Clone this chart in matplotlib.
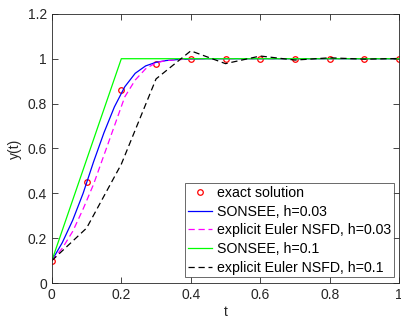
import numpy as np
import matplotlib.pyplot as plt
from matplotlib.ticker import FormatStrFormatter

# exact solution sampled at h=0.1
t_exact = [0, 0.1, 0.2, 0.3, 0.4, 0.5, 0.6, 0.7, 0.8, 0.9, 1.0]
y_exact = [0.1, 0.45, 0.86, 0.978, 0.997, 1.0, 1.0, 1.0, 1.0, 1.0, 1.0]

# h = 0.03 runs
t_fine = [0.00, 0.03, 0.06, 0.09, 0.12, 0.15, 0.18, 0.21, 0.24, 0.27, 0.30, 0.33,
          0.36, 0.39, 0.42, 0.45, 0.48, 0.51, 0.54, 0.57, 0.60, 0.63, 0.66, 0.69,
          0.72, 0.75, 0.78, 0.81, 0.84, 0.87, 0.90, 0.93, 0.96, 0.99]
y_sonsee_fine = [0.1, 0.18, 0.28, 0.40, 0.54, 0.67, 0.785, 0.875, 0.935, 0.968,
                 0.984, 0.992, 0.996, 0.998, 0.999] + [1.0] * 19
y_euler_fine = [0.1, 0.155, 0.23, 0.33, 0.44, 0.57, 0.70, 0.83, 0.905, 0.955,
                0.982, 0.992, 0.996, 0.998, 0.999] + [1.0] * 19

# h = 0.1 runs
t_coarse = [0, 0.1, 0.2, 0.3, 0.4, 0.5, 0.6, 0.7, 0.8, 0.9, 1.0]
y_sonsee_coarse = [0.1, 0.55, 1.0, 1.0, 1.0, 1.0, 1.0, 1.0, 1.0, 1.0, 1.0]
y_euler_coarse = [0.1, 0.245, 0.53, 0.91, 1.035, 0.978, 1.012, 0.994, 1.004, 0.998, 1.001]

plt.rcParams['font.family'] = ['Liberation Sans', 'DejaVu Sans']
plt.rcParams['font.size'] = 10

fig = plt.figure(figsize=(4.02, 3.22), dpi=100)
ax = fig.add_axes([0.129, 0.121, 0.864, 0.836])

ax.plot(t_exact, y_exact, 'o', color='red', mfc='none', ms=4, mew=0.9, label='exact solution')
ax.plot(t_fine, y_sonsee_fine, '-', color='blue', lw=0.9, label='SONSEE, h=0.03')
ax.plot(t_fine, y_euler_fine, '--', color='magenta', lw=0.9, dashes=(5, 3),
        label='explicit Euler NSFD, h=0.03')
ax.plot(t_coarse, y_sonsee_coarse, '-', color='#00ff00', lw=0.9, label='SONSEE, h=0.1')
ax.plot(t_coarse, y_euler_coarse, '--', color='black', lw=0.9, dashes=(5, 3),
        label='explicit Euler NSFD, h=0.1')

ax.set_xlim(0, 1)
ax.set_ylim(0, 1.2)
ax.set_xticks(np.arange(0, 1.01, 0.2))
ax.set_yticks(np.arange(0, 1.21, 0.2))
ax.xaxis.set_major_formatter(FormatStrFormatter('%g'))
ax.yaxis.set_major_formatter(FormatStrFormatter('%g'))
ax.tick_params(direction='in', top=True, right=True, length=4, width=0.6,
               colors='#262626', labelsize=10, labelcolor='#262626')
for s in ax.spines.values():
    s.set_color('#262626')
    s.set_linewidth(0.6)

ax.set_xlabel('t', color='#262626', labelpad=2)
ax.set_ylabel('y(t)', color='#262626', labelpad=4)

leg = ax.legend(loc='lower right', fontsize=10.2, frameon=True, fancybox=False,
                edgecolor='#262626', handlelength=1.7, handletextpad=0.35,
                borderpad=0.2, labelspacing=0.33, borderaxespad=0.4)
leg.get_frame().set_linewidth(0.6)

fig.savefig('out.png', dpi=100)
